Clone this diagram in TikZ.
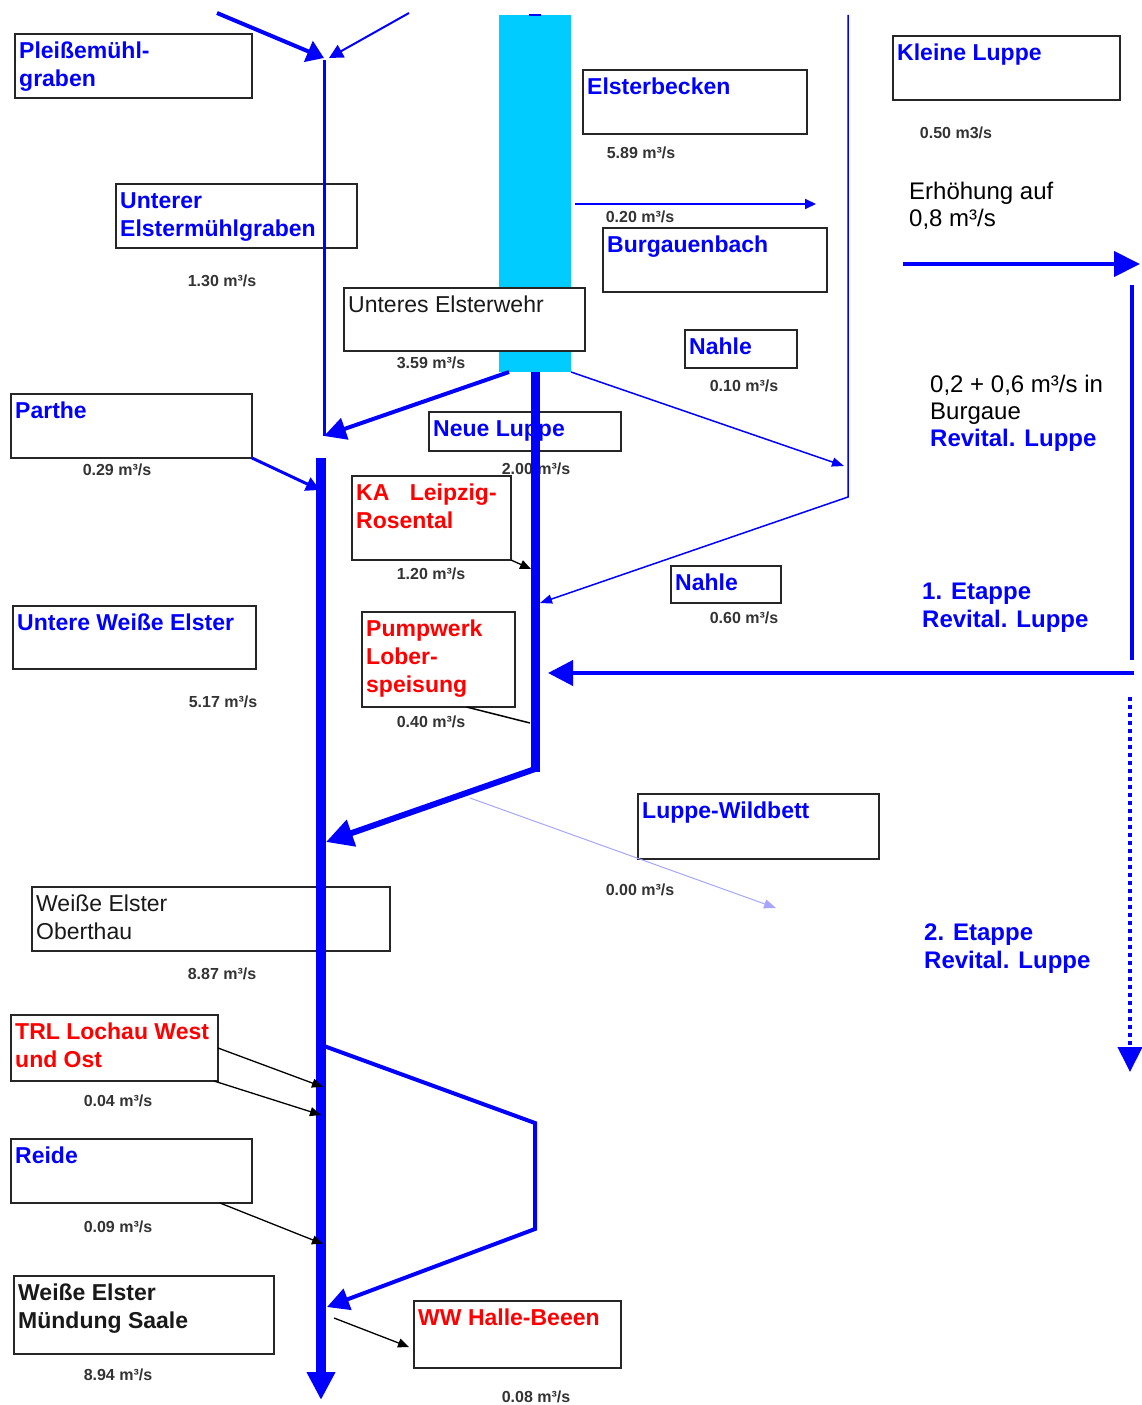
\documentclass[tikz,border=0pt]{standalone}
\usepackage{fontspec}
\setmainfont{Liberation Sans}
\usepackage{xcolor}
\usepackage{tikz}
\usetikzlibrary{arrows.meta, positioning, calc}

\definecolor{flussblau}{RGB}{0,0,255}
\definecolor{beckencyan}{RGB}{0,204,255}
\definecolor{einleitrot}{RGB}{255,0,0}

\begin{document}
\begin{tikzpicture}[
    x=1pt, y=-1pt,
    box/.style={rectangle, draw=black!85, line width=1.5pt, fill=white, anchor=north west, inner sep=0pt, outer sep=0pt},
    lbl/.style={anchor=north west, align=left, inner xsep=4pt, inner ysep=8pt, font=\fontsize{23}{28}\selectfont\bfseries},
    gew/.style={lbl, text=flussblau},
    ein/.style={lbl, text=einleitrot},
    ort/.style={lbl, text=black!90, font=\fontsize{23}{28}\selectfont},
    flow/.style={font=\fontsize{16}{18}\selectfont\bfseries, text=black!80, inner sep=0pt},
    note/.style={anchor=north west, align=left, inner sep=0pt, font=\fontsize{24}{27}\selectfont},
    etappe/.style={note, text=flussblau, font=\fontsize{24}{28}\selectfont\bfseries},
    fluss/.style={draw=flussblau, line cap=butt, line join=miter},
    zufluss/.style={draw=black, line width=1.3pt, -{Triangle[length=11pt, width=9pt]}},
]
    \useasboundingbox (0,0) rectangle (1141,1405);

    % Elsterbecken (Balken)
    \node[fill=beckencyan, minimum width=72pt, minimum height=357pt, anchor=north west, inner sep=0pt, outer sep=0pt] (bar) at (499,15) {};
    \draw[fluss, line width=2pt] ([xshift=-6pt]bar.north) -- ([xshift=6pt]bar.north);

    % Gewaesser und Einleiter
    \node[box, minimum width=237pt, minimum height=64pt] (pleisse) at (15,34) {};
    \node[gew] (pleisse-t) at (pleisse.north west) {Pleißemühl-\\graben};
    \node[box, minimum width=241pt, minimum height=64pt] (uemg) at (116,184) {};
    \node[gew] (uemg-t) at (uemg.north west) {Unterer\\Elstermühlgraben};
    \node[box, minimum width=224pt, minimum height=64pt] (ebecken) at (583,70) {};
    \node[gew] (ebecken-t) at (ebecken.north west) {Elsterbecken};
    \node[box, minimum width=227pt, minimum height=64pt] (kluppe) at (893,36) {};
    \node[gew] (kluppe-t) at (kluppe.north west) {Kleine Luppe};
    \node[box, minimum width=224pt, minimum height=64pt] (burgau) at (603,228) {};
    \node[gew] (burgau-t) at (burgau.north west) {Burgauenbach};
    \node[box, minimum width=241pt, minimum height=63pt] (wehr) at (344,288) {};
    \node[ort] (wehr-t) at (wehr.north west) {Unteres Elsterwehr};
    \node[box, minimum width=112pt, minimum height=38pt] (nahle1) at (685,330) {};
    \node[gew] (nahle1-t) at (nahle1.north west) {Nahle};
    \node[box, minimum width=241pt, minimum height=64pt] (parthe) at (11,394) {};
    \node[gew] (parthe-t) at (parthe.north west) {Parthe};
    \node[box, minimum width=192pt, minimum height=39pt] (nluppe) at (429,412) {};
    \node[gew] (nluppe-t) at (nluppe.north west) {Neue Luppe};
    \node[box, minimum width=159pt, minimum height=84pt] (ka) at (352,476) {};
    \node[ein] (ka-t) at (ka.north west) {KA\hspace{14pt} Leipzig-\\Rosental};
    \node[box, minimum width=110pt, minimum height=37pt] (nahle2) at (671,566) {};
    \node[gew] (nahle2-t) at (nahle2.north west) {Nahle};
    \node[box, minimum width=243pt, minimum height=63pt] (uwe) at (13,606) {};
    \node[gew] (uwe-t) at (uwe.north west) {Untere Weiße Elster};
    \node[box, minimum width=153pt, minimum height=95pt] (pump) at (362,612) {};
    \node[ein] (pump-t) at (pump.north west) {Pumpwerk\\Lober-\\speisung};
    \node[box, minimum width=241pt, minimum height=65pt] (wild) at (638,794) {};
    \node[gew] (wild-t) at (wild.north west) {Luppe-Wildbett};
    \node[box, minimum width=358pt, minimum height=64pt] (oberthau) at (32,887) {};
    \node[ort] (oberthau-t) at (oberthau.north west) {Weiße Elster\\Oberthau};
    \node[box, minimum width=207pt, minimum height=66pt] (trl) at (11,1015) {};
    \node[ein] (trl-t) at (trl.north west) {TRL Lochau West\\und Ost};
    \node[box, minimum width=241pt, minimum height=64pt] (reide) at (11,1139) {};
    \node[gew] (reide-t) at (reide.north west) {Reide};
    \node[box, minimum width=260pt, minimum height=78pt] (muendung) at (14,1276) {};
    \node[lbl, text=black!90] (muendung-t) at (muendung.north west) {Weiße Elster\\Mündung Saale};
    \node[box, minimum width=207pt, minimum height=67pt] (ww) at (414,1301) {};
    \node[ein] (ww-t) at (ww.north west) {WW Halle-Beeen};

    % Abfluesse
    \node[flow] (f130) at (222,281) {1.30 m³/s};
    \node[flow] (f589) at (641,153) {5.89 m³/s};
    \node[flow] (f050) at (956,133) {0.50 m3/s};
    \node[flow] (f020) at (640,217) {0.20 m³/s};
    \node[flow] (f359) at (431,363) {3.59 m³/s};
    \node[flow] (f010) at (744,386) {0.10 m³/s};
    \node[flow] (f029) at (117,470) {0.29 m³/s};
    \node[flow] (f200) at (536,469) {2.00 m³/s};
    \node[flow] (f120) at (431,574) {1.20 m³/s};
    \node[flow] (f060) at (744,618) {0.60 m³/s};
    \node[flow] (f517) at (223,702) {5.17 m³/s};
    \node[flow] (f040) at (431,722) {0.40 m³/s};
    \node[flow] (f000) at (640,890) {0.00 m³/s};
    \node[flow] (f887) at (222,974) {8.87 m³/s};
    \node[flow] (f004) at (118,1101) {0.04 m³/s};
    \node[flow] (f009) at (118,1227) {0.09 m³/s};
    \node[flow] (f894) at (118,1375) {8.94 m³/s};
    \node[flow] (f008) at (536,1397) {0.08 m³/s};

    % Hinweise rechts
    \node[note] (erh) at (909,182) {Erhöhung auf\\0,8 m³/s};
    \node[note] (burgaue) at (930,375) {0,2 + 0,6 m³/s in\\Burgaue\\\textcolor{flussblau}{\bfseries Revital. Luppe}};
    \node[etappe] (etappe1) at (922,583) {1. Etappe\\Revital. Luppe};
    \node[etappe] (etappe2) at (924,924) {2. Etappe\\Revital. Luppe};

    % Stuetzpunkte
    \coordinate (pleisse-q) at (217,13);
    \coordinate (elster-q) at (409,13);
    \coordinate (emg-top) at (324,58);
    \coordinate (emg-start) at (324,60);
    \coordinate (emg-bot) at (324,436);
    \coordinate (we-top) at (321,458);
    \coordinate (we-end) at (321,1400);
    \coordinate (parthe-ein) at (320,490);
    \coordinate (nl-knick) at (535,772);
    \coordinate (nl-ein) at (326,842);
    \coordinate (nahle-ab) at (844,466);
    \coordinate (nahle-oben) at (848,15);
    \coordinate (nahle-knick) at (848,497);
    \coordinate (nahle-ein) at (540,603);
    \coordinate (bb-ab) at (575,204);
    \coordinate (bb-end) at (816,204);
    \coordinate (kl-ab) at (903,264);
    \coordinate (kl-end) at (1140,264);
    \coordinate (et1-oben) at (1132,285);
    \coordinate (et1-unten) at (1132,660);
    \coordinate (et1-rechts) at (1134,673);
    \coordinate (et1-ein) at (548,673);
    \coordinate (et2-oben) at (1130,697);
    \coordinate (et2-end) at (1130,1072);
    \coordinate (ka-ein) at (531,569);
    \coordinate (pump-ein) at (530,723);
    \coordinate (wild-ab) at (470,798);
    \coordinate (wild-end) at (776,908);
    \coordinate (trl-ein1) at (323,1087);
    \coordinate (trl-ein2) at (321,1115);
    \coordinate (reide-ein) at (323,1244);
    \coordinate (bp-ab) at (324,1046);
    \coordinate (bp-oben) at (535,1123);
    \coordinate (bp-unten) at (535,1229);
    \coordinate (bp-ein) at (327,1307);
    \coordinate (ww-ab) at (334,1318);
    \coordinate (ww-ein) at (409,1347);

    % Fliesswege
    \draw[fluss, line width=4pt, -{Triangle[length=17pt, width=22pt]}] (pleisse-q) -- (emg-top);
    \draw[fluss, line width=2pt, -{Triangle[length=14pt, width=14pt]}] (elster-q) -- ([xshift=5pt]emg-top);
    \draw[fluss, line width=3pt] (emg-start) -- (emg-bot);
    \draw[fluss, line width=4pt, -{Triangle[length=22pt, width=22pt]}] ([xshift=10pt]bar.south west) -- (emg-bot);
    \draw[fluss, line width=3pt, -{Triangle[length=14pt, width=14pt]}] (parthe.south east) -- (parthe-ein);
    \draw[fluss, line width=10pt, -{Triangle[length=28pt, width=27pt]}] (we-top) -- (we-end);
    \draw[fluss, line width=9pt] (bar.south) -- (nl-knick);
    \draw[fluss, line width=6pt, -{Triangle[length=27pt, width=27pt]}] ([yshift=3pt]nl-knick) -- (nl-ein);
    \draw[fluss, line width=1.5pt, -{Triangle[length=12pt, width=9pt]}] (bar.south east) -- (nahle-ab);
    \draw[fluss, line width=1.5pt, -{Triangle[length=12pt, width=9pt]}] (nahle-oben) -- (nahle-knick) -- (nahle-ein);
    \draw[fluss, line width=2pt, -{Triangle[length=11pt, width=10pt]}] (bb-ab) -- (bb-end);
    \draw[fluss, line width=4pt, -{Triangle[length=26pt, width=25pt]}] (kl-ab) -- (kl-end);
    \draw[fluss, line width=3.5pt] (et1-oben) -- (et1-unten);
    \draw[fluss, line width=4pt, -{Triangle[length=25pt, width=25pt]}] (et1-rechts) -- (et1-ein);
    \draw[fluss, line width=4pt, dash pattern=on 4pt off 4pt, -{Triangle[length=25pt, width=24pt]}] (et2-oben) -- (et2-end);
    \draw[draw=flussblau!35, line width=1pt, -{Triangle[length=12pt, width=9pt]}] (wild-ab) -- (wild-end);
    \draw[fluss, line width=4pt, -{Triangle[length=22pt, width=22pt]}] (bp-ab) -- (bp-oben) -- (bp-unten) -- (bp-ein);

    % Einleitungen
    \draw[zufluss] (ka.south east) -- (ka-ein);
    \draw[black, line width=1.5pt] ([xshift=28pt]pump.south) -- (pump-ein);
    \draw[zufluss] (trl.east) -- (trl-ein1);
    \draw[zufluss] ([xshift=-4pt]trl.south east) -- (trl-ein2);
    \draw[zufluss] ([xshift=-32pt]reide.south east) -- (reide-ein);
    \draw[zufluss] (ww-ab) -- (ww-ein);
\end{tikzpicture}
\end{document}
